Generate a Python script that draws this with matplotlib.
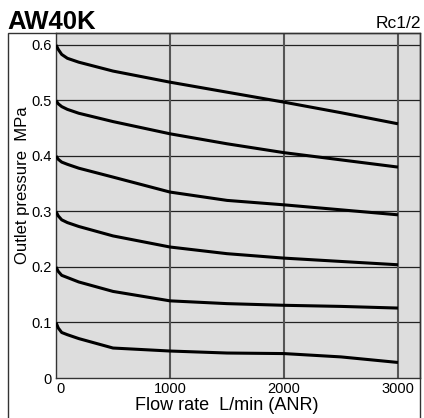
import matplotlib
matplotlib.use('Agg')
import matplotlib.pyplot as plt
from matplotlib.patches import Rectangle

plt.rcParams['font.family'] = ['Liberation Sans', 'DejaVu Sans']

# flow rate points (L/min ANR)
flow = [0, 20, 50, 100, 200, 500, 1000, 1500, 2000, 2500, 3000]

# outlet pressure curves (MPa), one per set pressure
p06 = [0.600, 0.592, 0.583, 0.576, 0.569, 0.553, 0.533, 0.515, 0.497, 0.478, 0.458]
p05 = [0.500, 0.494, 0.489, 0.484, 0.477, 0.462, 0.440, 0.422, 0.406, 0.393, 0.380]
p04 = [0.400, 0.394, 0.389, 0.385, 0.378, 0.362, 0.335, 0.320, 0.312, 0.303, 0.294]
p03 = [0.300, 0.292, 0.285, 0.280, 0.273, 0.256, 0.236, 0.224, 0.216, 0.210, 0.204]
p02 = [0.200, 0.192, 0.185, 0.181, 0.173, 0.156, 0.139, 0.134, 0.131, 0.129, 0.126]
p01 = [0.100, 0.090, 0.082, 0.078, 0.071, 0.054, 0.0486, 0.045, 0.044, 0.038, 0.028]
curves = [p06, p05, p04, p03, p02, p01]

xticks = [0, 1000, 2000, 3000]
xticklabels = ['0', '1000', '2000', '3000']
yticks = [0, 0.1, 0.2, 0.3, 0.4, 0.5, 0.6]
yticklabels = ['0', '0.1', '0.2', '0.3', '0.4', '0.5', '0.6']

W, H = 424, 418
fig = plt.figure(figsize=(W / 100, H / 100), dpi=100)
ax = fig.add_axes([56 / W, (H - 378) / H, (420 - 56) / W, (378 - 33) / H])
ax.set_facecolor('#dddddd')

for yv in yticks[1:]:
    ax.axhline(yv, color='#222222', lw=0.9, zorder=1)
for xv in xticks[1:]:
    ax.axvline(xv, color='#555555', lw=1.5, zorder=1)

for c in curves:
    ax.plot(flow, c, color='black', lw=2.2, solid_capstyle='butt', zorder=3)

ax.set_xlim(0, 3193)
ax.set_ylim(0, 0.6216)
ax.set_xticks(xticks)
ax.set_xticklabels(xticklabels, fontsize=10.5)
ax.set_yticks(yticks)
ax.set_yticklabels(yticklabels, fontsize=10.5)
ax.tick_params(length=0, pad=3)
ax.get_xticklabels()[0].set_horizontalalignment('left')
for s in ax.spines.values():
    s.set_color('#333333')
    s.set_linewidth(1.0)

fig.text(227 / W, 1 - 406 / H, 'Flow rate  L/min (ANR)', fontsize=13,
         ha='center', va='center')
fig.text(23 / W, 1 - 185 / H, 'Outlet pressure  MPa', fontsize=12,
         ha='center', va='center', rotation=90)
fig.text(7 / W, 1 - 29 / H, 'AW40K', fontsize=18.5, fontweight='bold',
         ha='left', va='baseline')
fig.text(421 / W, 1 - 28 / H, 'Rc1/2', fontsize=12.5, ha='right', va='baseline')

fig.patches.append(Rectangle((8 / W, -0.02), (420 - 8) / W, (H - 33) / H + 0.02,
                             transform=fig.transFigure, fill=False,
                             edgecolor='#333333', lw=1.0))

fig.savefig('out.png', dpi=100)
